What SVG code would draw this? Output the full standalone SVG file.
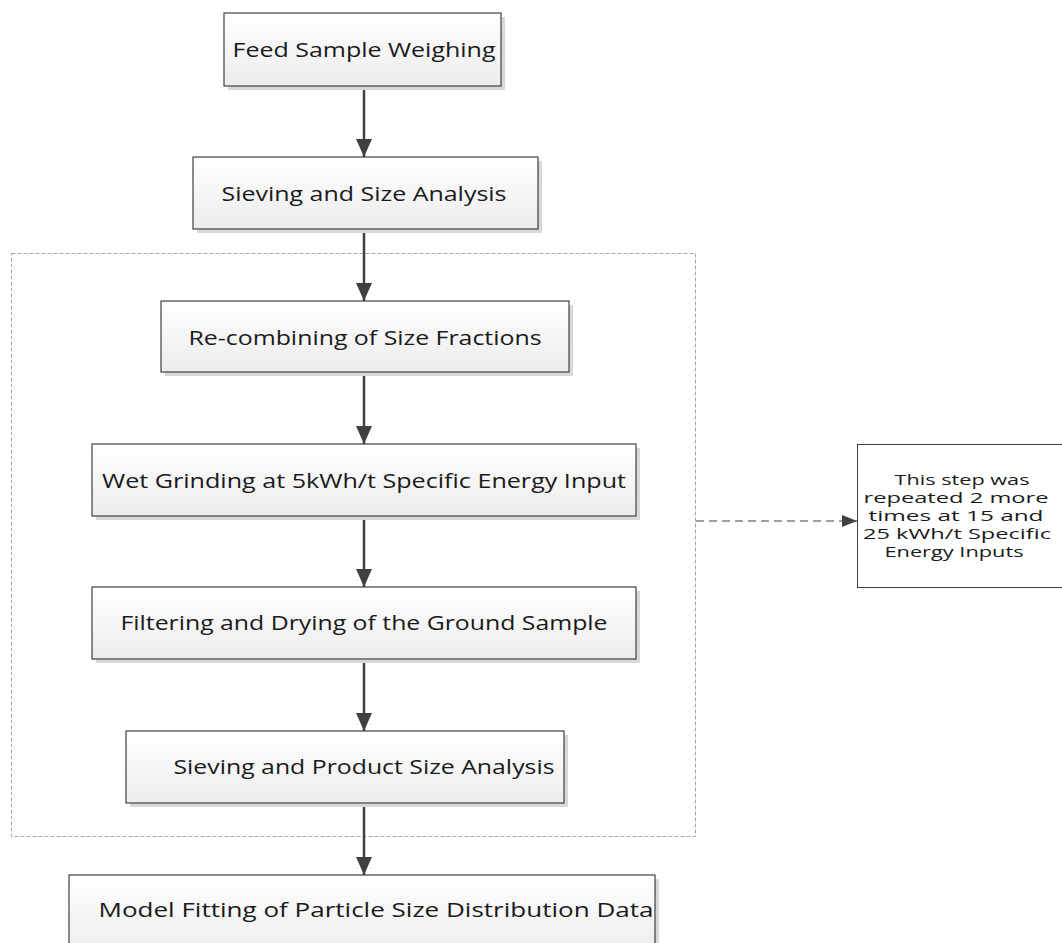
<svg xmlns="http://www.w3.org/2000/svg" width="1062" height="943" viewBox="0 0 1062 943">
<defs>
<linearGradient id="g" x1="0" y1="0" x2="0" y2="1">
<stop offset="0" stop-color="#ffffff"/>
<stop offset="1" stop-color="#ececec"/>
</linearGradient>
<marker id="ah" markerUnits="userSpaceOnUse" markerWidth="20" markerHeight="16" refX="18" refY="8" orient="auto">
<path d="M0,0 L18,8 L0,16 Z" fill="#404040"/>
</marker>
<marker id="ah2" markerUnits="userSpaceOnUse" markerWidth="16" markerHeight="12" refX="15" refY="6" orient="auto">
<path d="M0,0 L15,6 L0,12 Z" fill="#404040"/>
</marker>
</defs>
<style>
.box{fill:url(#g);stroke:#404040;stroke-width:1.2}
.sh{fill:#d8d8d8}
.t{font-family:"Open Sans","Liberation Sans",sans-serif;font-size:20px;fill:#1a1a1a;text-anchor:middle}
.ts{font-family:"Open Sans","Liberation Sans",sans-serif;font-size:14px;fill:#1a1a1a;text-anchor:middle}
.c{stroke:#404040;stroke-width:2.5;fill:none;marker-end:url(#ah)}
</style>
<rect width="1062" height="943" fill="#ffffff"/>
<rect id="repeat-group" x="11.5" y="253.5" width="684" height="583" fill="none" stroke="#a8a8a8" stroke-width="1" stroke-dasharray="4,2"/>
<g id="connectors">
<line class="c" x1="364" y1="86" x2="364" y2="157"/>
<line class="c" x1="364" y1="229" x2="364" y2="301"/>
<line class="c" x1="364" y1="372" x2="364" y2="444"/>
<line class="c" x1="364" y1="516" x2="364" y2="587"/>
<line class="c" x1="364" y1="659" x2="364" y2="731"/>
<line class="c" x1="364" y1="803" x2="364" y2="875"/>
<line x1="696" y1="521" x2="857" y2="521" stroke="#404040" stroke-width="1.2" stroke-dasharray="8,5" marker-end="url(#ah2)"/>
</g>
<g id="n1">
<rect class="sh" x="228" y="17" width="277" height="73"/>
<rect class="box" x="224" y="13" width="277" height="73"/>
<text class="t" x="364" y="57" textLength="263" lengthAdjust="spacingAndGlyphs">Feed Sample Weighing</text>
</g>
<g id="n2">
<rect class="sh" x="197" y="161" width="345" height="72"/>
<rect class="box" x="193" y="157" width="345" height="72"/>
<text class="t" x="364" y="201" textLength="285" lengthAdjust="spacingAndGlyphs">Sieving and Size Analysis</text>
</g>
<g id="n3">
<rect class="sh" x="165" y="305" width="408" height="71"/>
<rect class="box" x="161" y="301" width="408" height="71"/>
<text class="t" x="365" y="345" textLength="353" lengthAdjust="spacingAndGlyphs">Re-combining of Size Fractions</text>
</g>
<g id="n4">
<rect class="sh" x="96" y="448" width="544" height="72"/>
<rect class="box" x="92" y="444" width="544" height="72"/>
<text class="t" x="364" y="488" textLength="524" lengthAdjust="spacingAndGlyphs">Wet Grinding at 5kWh/t Specific Energy Input</text>
</g>
<g id="n5">
<rect class="sh" x="96" y="591" width="544" height="72"/>
<rect class="box" x="92" y="587" width="544" height="72"/>
<text class="t" x="364" y="630" textLength="487" lengthAdjust="spacingAndGlyphs">Filtering and Drying of the Ground Sample</text>
</g>
<g id="n6">
<rect class="sh" x="130" y="735" width="438" height="72"/>
<rect class="box" x="126" y="731" width="438" height="72"/>
<text class="t" x="364" y="774" textLength="381" lengthAdjust="spacingAndGlyphs">Sieving and Product Size Analysis</text>
</g>
<g id="n7">
<rect class="sh" x="73" y="879" width="586" height="80"/>
<rect class="box" x="69" y="875" width="586" height="80"/>
<text class="t" x="376" y="917" textLength="555" lengthAdjust="spacingAndGlyphs">Model Fitting of Particle Size Distribution Data</text>
</g>
<g id="note">
<rect x="857.5" y="444.5" width="210" height="143" fill="#ffffff" stroke="#404040" stroke-width="1"/>
<text class="ts" x="962" y="485" textLength="135" lengthAdjust="spacingAndGlyphs">This step was</text>
<text class="ts" x="956" y="503" textLength="185" lengthAdjust="spacingAndGlyphs">repeated 2 more</text>
<text class="ts" x="956" y="521" textLength="175" lengthAdjust="spacingAndGlyphs">times  at 15 and</text>
<text class="ts" x="957" y="539" textLength="188" lengthAdjust="spacingAndGlyphs">25 kWh/t Specific</text>
<text class="ts" x="954" y="557" textLength="139" lengthAdjust="spacingAndGlyphs">Energy Inputs</text>
</g>
</svg>
